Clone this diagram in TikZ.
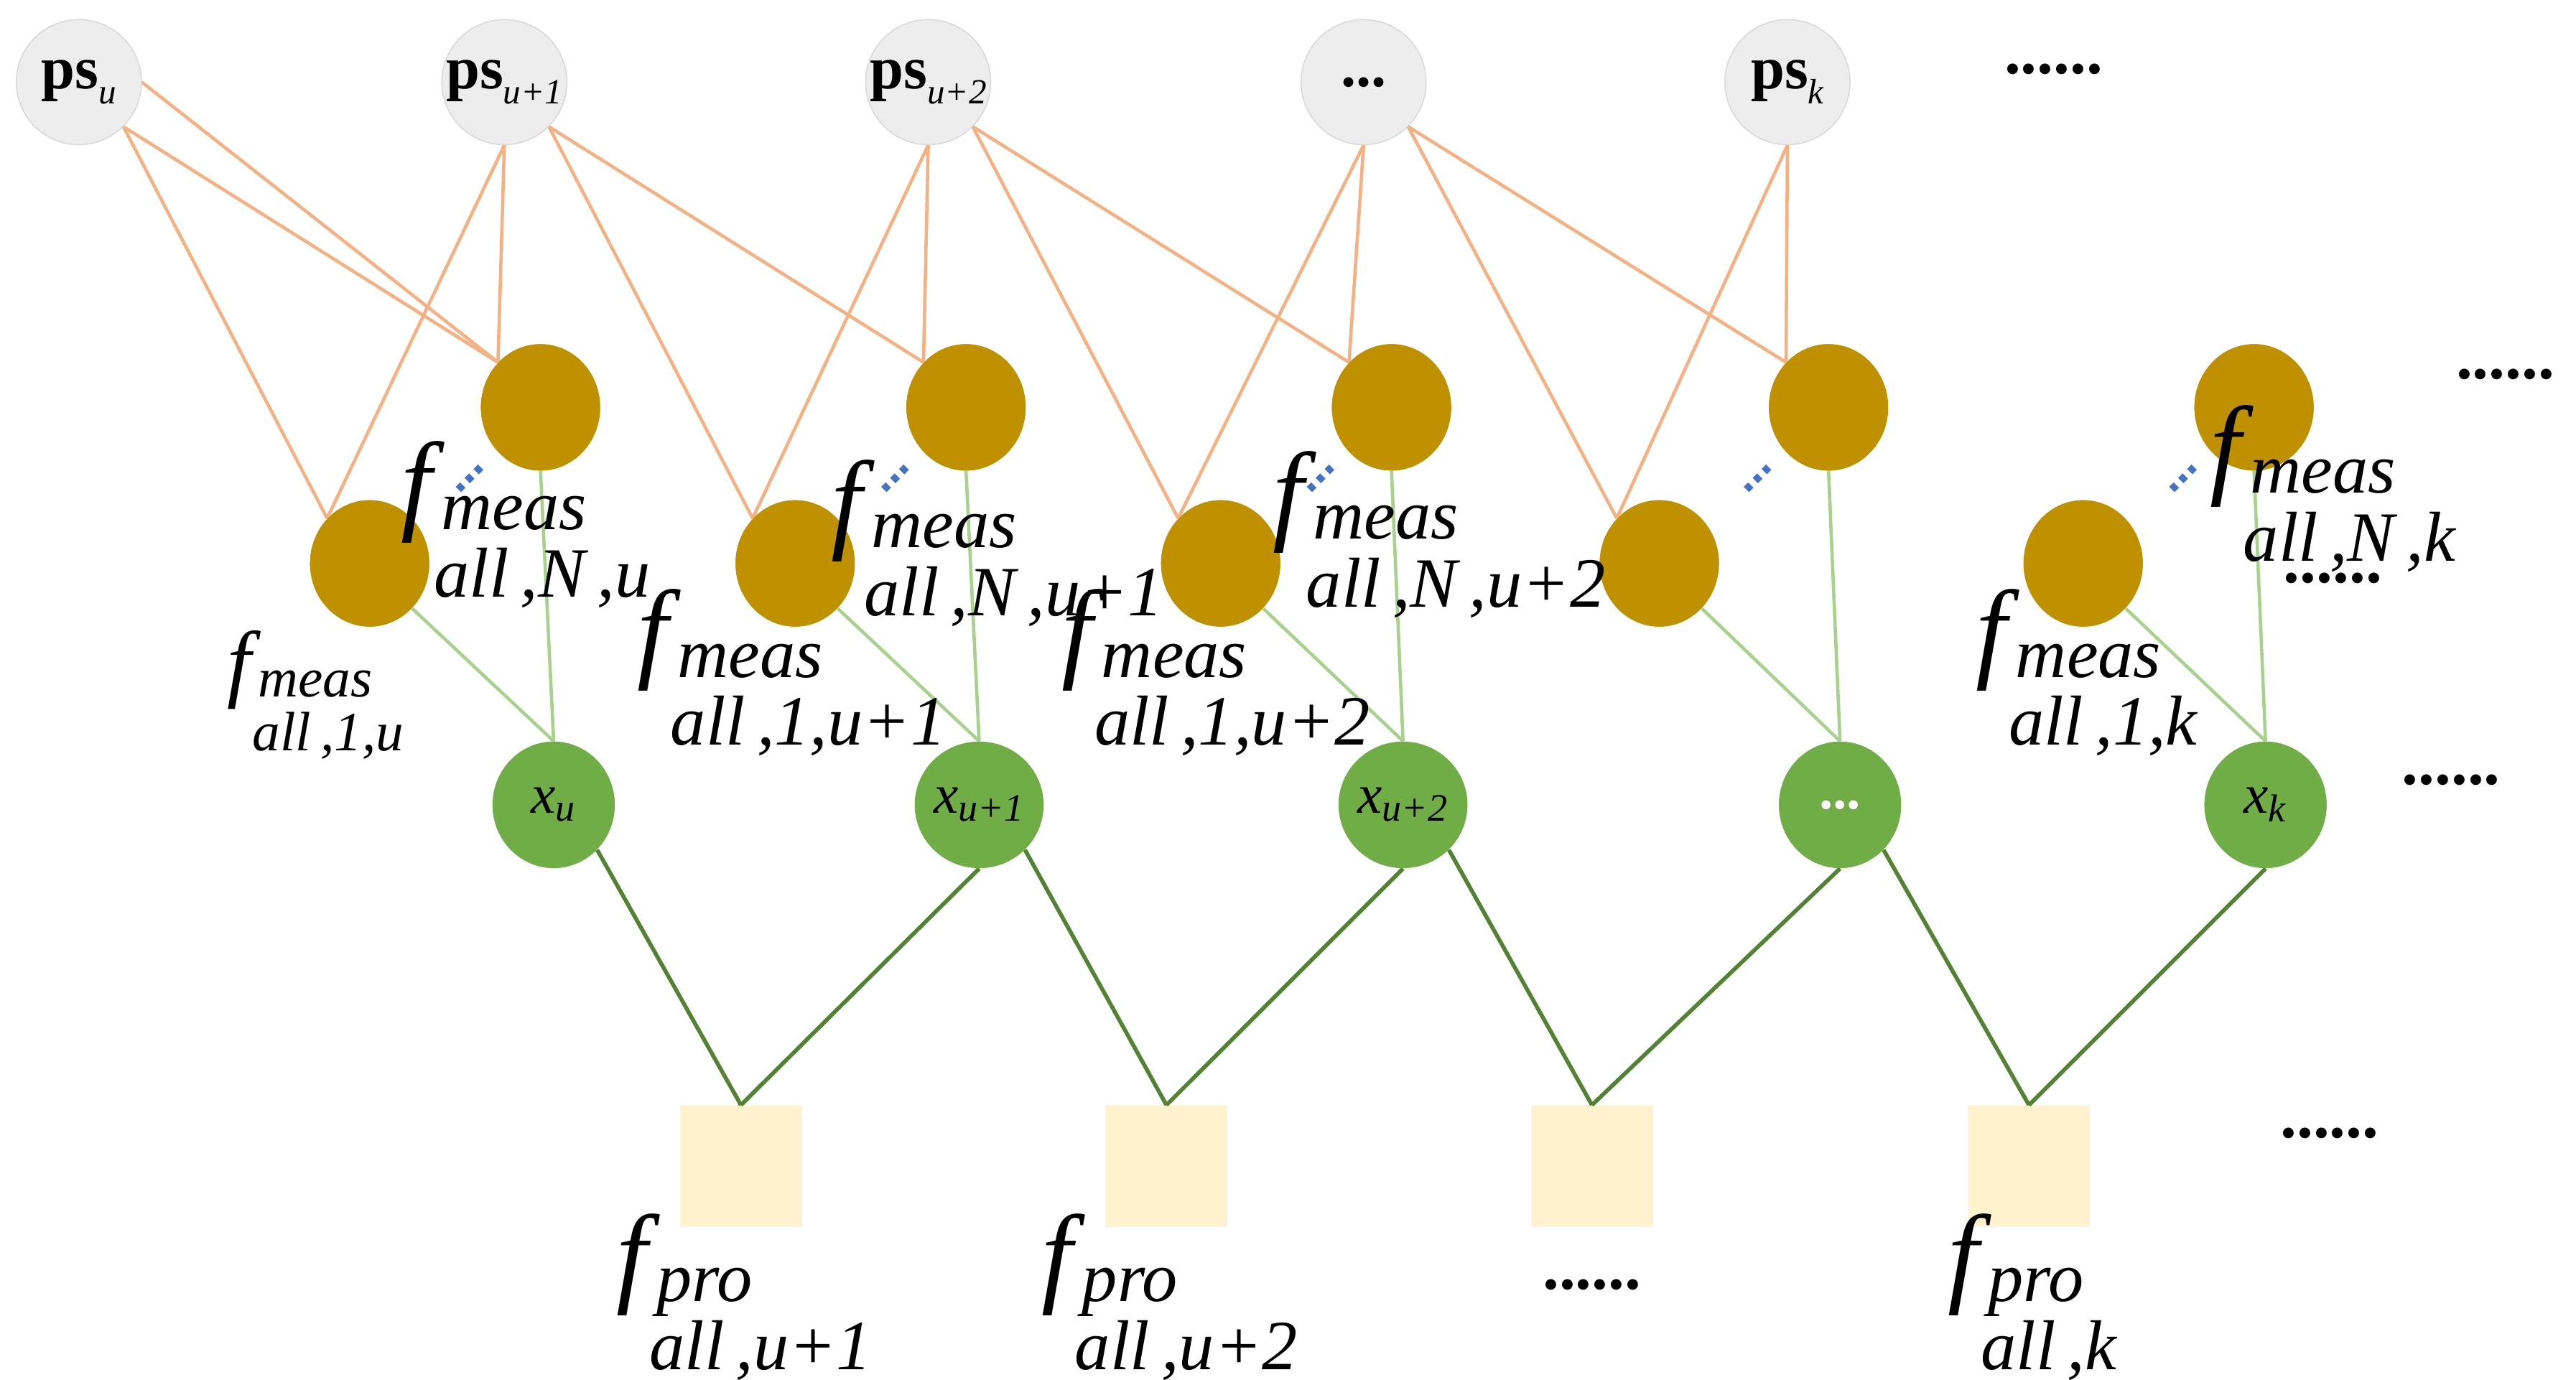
\documentclass[tikz,border=0pt]{standalone}
\usepackage{fontspec}
\setmainfont{Liberation Serif}
\usetikzlibrary{shapes.geometric}
\definecolor{gold}{HTML}{BF9000}
\definecolor{grn}{HTML}{70AD47}
\definecolor{org}{HTML}{F4B183}
\definecolor{lgrn}{HTML}{A9D18E}
\definecolor{dgrn}{HTML}{548235}
\definecolor{sq}{HTML}{FFF2CC}
\definecolor{psf}{HTML}{EDEDED}
\definecolor{blu}{HTML}{4472C4}
% big label: f with stacked sup/sub
\newcommand\fbig[2]{{\itshape\fontsize{44}{44}\selectfont f\kern0.02em\raisebox{-0.42em}{\fontsize{28}{25}\selectfont\begin{tabular}{@{}l@{}}\kern0.1em #1\\ #2\end{tabular}}}}
\newcommand\fsml[2]{{\itshape\fontsize{34}{34}\selectfont f\kern0.02em\raisebox{-0.42em}{\fontsize{22}{20}\selectfont\begin{tabular}{@{}l@{}}\kern0.1em #1\\ #2\end{tabular}}}}
\newcommand\pss[1]{ps\raisebox{-0.25em}{\normalfont\itshape\fontsize{14}{14}\selectfont #1}}
\begin{document}
\begin{tikzpicture}[x=0.022876cm,y=-0.022876cm,
 ps/.style={circle,fill=psf,draw=black!15,minimum size=17.4mm,inner sep=0pt,font=\fontsize{24}{26}\selectfont\bfseries},
 gd/.style={ellipse,fill=gold,minimum width=16.6mm,minimum height=17.6mm,inner sep=0pt},
 xn/.style={ellipse,fill=grn,minimum width=17mm,minimum height=17.6mm,inner sep=0pt,font=\fontsize{22}{24}\selectfont\itshape},
 sqn/.style={rectangle,fill=sq,draw=sq!80!black!20,minimum size=16.9mm,inner sep=0pt},
 lab/.style={inner sep=0pt},
 dots/.style={font=\fontsize{26}{28}\selectfont\bfseries},
 oe/.style={org,line width=1.3pt},
 ge/.style={lgrn,line width=1.3pt},
 de/.style={dgrn,line width=1.6pt},
 bd/.style={blu,line width=3pt,dash pattern=on 2.5pt off 2.5pt}]
\useasboundingbox (0,0) rectangle (1568,840);
% gold nodes
\foreach \i/\xa/\xb in {1/329/225,2/588/484,3/847/743,4/1113/1010,5/1372/1268}{
 \node[gd] (n\i) at (\xa,248) {};
 \node[gd] (o\i) at (\xb,343) {};
}
% ps nodes
\node[ps] (p1) at (48,50) {\pss{u}};
\node[ps] (p2) at (307,50) {\pss{u+1}};
\node[ps] (p3) at (565,50) {\pss{u+2}};
\node[ps] (p4) at (830,50) {...};
\node[ps] (p5) at (1088,50) {\pss{k}};
% x nodes
\node[xn] (x1) at (337,490) {x\textsubscript{u}};
\node[xn] (x2) at (596,490) {x\textsubscript{u+1}};
\node[xn] (x3) at (854,490) {x\textsubscript{u+2}};
\node[xn,text=white,font=\fontsize{22}{24}\selectfont\bfseries] (x4) at (1120,490) {...};
\node[xn] (x5) at (1379,490) {x\textsubscript{k}};
% squares
\node[sqn] (s1) at (451,710) {};
\node[sqn] (s2) at (710,710) {};
\node[sqn] (s3) at (969,710) {};
\node[sqn] (s4) at (1235,710) {};
% orange edges: own column from south east, previous column from south
\foreach \p/\a/\an in {1/1/south east,2/1/south,2/2/south east,3/2/south,3/3/south east,4/3/south,4/4/south east,5/4/south}{
 \draw[oe] (p\p.\an) -- (n\a.north west);
 \draw[oe] (p\p.\an) -- (o\a.north west);
}
\draw[oe] (p1.east) -- (n1.north west);
\foreach \a in {1,...,5}{
 \draw[ge] (n\a.south) -- (x\a.north);
 \draw[ge] (o\a.south east) -- (x\a.north);
}
\foreach \s/\l/\r in {1/1/2,2/2/3,3/3/4,4/4/5}{
 \draw[de] (x\l.south east) -- (s\s.north);
 \draw[de] (x\r.south) -- (s\s.north);
}
% redraw nodes on top of edges
\foreach \i/\xa/\xb in {1/329/225,2/588/484,3/847/743,4/1113/1010,5/1372/1268}{
 \node[gd] at (\xa,248) {};
 \node[gd] at (\xb,343) {};
}
\node[ps] at (48,50) {\pss{u}};
\node[ps] at (307,50) {\pss{u+1}};
\node[ps] at (565,50) {\pss{u+2}};
\node[ps] at (830,50) {...};
\node[ps] at (1088,50) {\pss{k}};
\node[xn] at (337,490) {x\textsubscript{u}};
\node[xn] at (596,490) {x\textsubscript{u+1}};
\node[xn] at (854,490) {x\textsubscript{u+2}};
\node[xn,text=white,font=\fontsize{22}{24}\selectfont\bfseries] at (1120,490) {...};
\node[xn] at (1379,490) {x\textsubscript{k}};
% dots
\node[dots] (d1) at (1250,42) {......};
\node[dots] (d2) at (1525,228) {......};
\node[dots] (d3) at (1420,352) {......};
\node[dots] (d4) at (1492,475) {......};
\node[dots] (d5) at (1418,690) {......};
\node[dots] (d6) at (969,782) {......};
% labels
\node[lab] (l1) at (320,322) {\fbig{meas}{all\,,N\,,u}};
\node[lab] (l2) at (192,425) {\fsml{meas}{all\,,1,u}};
\node[lab] (l3) at (607,333) {\fbig{meas}{all\,,N\,,u+1}};
\node[lab] (l4) at (482,412) {\fbig{meas}{all\,,1,u+1}};
\node[lab] (l5) at (876,328) {\fbig{meas}{all\,,N\,,u+2}};
\node[lab] (l6) at (740,412) {\fbig{meas}{all\,,1,u+2}};
\node[lab] (l7) at (1420,300) {\fbig{meas}{all\,,N\,,k}};
\node[lab] (l8) at (1270,412) {\fbig{meas}{all\,,1,k}};
\node[lab] (l9) at (453,792) {\fbig{pro}{all\,,u+1}};
\node[lab] (l10) at (712,792) {\fbig{pro}{all\,,u+2}};
\node[lab] (l11) at (1237,792) {\fbig{pro}{all\,,k}};
% blue diamond dots
\foreach \a in {1,2,3,4,5}{
 \path (n\a) ++(-50,50) coordinate (ba\a) ++(14,-14) coordinate (bb\a);
 \draw[bd] (ba\a) -- (bb\a);
}
\end{tikzpicture}
\end{document}
